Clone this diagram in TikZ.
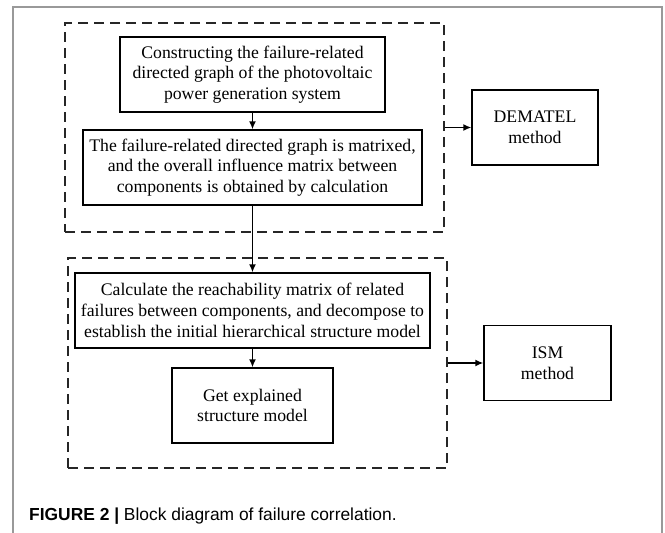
\documentclass[tikz,border=0pt]{standalone}
\usepackage{fontspec}
\setmainfont{Liberation Serif}
\newfontfamily\capfont{Liberation Sans}
\usetikzlibrary{arrows.meta}
\tikzset{
  stepbox/.style={draw=black, line width=1.4pt, inner sep=0pt, align=center,
    font=\fontsize{17.7}{20.8}\selectfont},
  groupbox/.style={draw=black!85, line width=1.4pt, dash pattern=on 10pt off 6pt, inner sep=0pt},
  flow/.style={line width=1.4pt, -{Latex[length=8pt,width=7pt]}},
  frameline/.style={draw=black!40, line width=1.5pt}
}
\begin{document}
\begin{tikzpicture}[x=1pt,y=-1pt]
\useasboundingbox (0,0) rectangle (665,533);
\draw[frameline] (13,533) -- (13,7) -- (662,7) -- (662,533);

\node[groupbox, minimum width=379pt, minimum height=209pt] (g1) at (254.5,127.5) {};
\node[groupbox, minimum width=379pt, minimum height=210pt] (g2) at (257.5,363) {};

\node[stepbox, minimum width=265pt, minimum height=75pt] (a) at (252.5,74.5)
  {Constructing the failure-related\\directed graph of the photovoltaic\\power generation system};
\node[stepbox, minimum width=339pt, minimum height=75pt] (b) at (252.5,167.5)
  {The failure-related directed graph is matrixed,\\and the overall influence matrix between\\components is obtained by calculation};
\node[stepbox, minimum width=355pt, minimum height=75pt] (c) at (252.5,310.5)
  {Calculate the reachability matrix of related\\failures between components, and decompose to\\establish the initial hierarchical structure model};
\node[stepbox, minimum width=161pt, minimum height=75pt] (d) at (252.5,405.5)
  {Get explained\\structure model};
\node[stepbox, minimum width=126pt, minimum height=75pt] (dem) at (535,127.5)
  {DEMATEL\\method};
\node[stepbox, minimum width=127pt, minimum height=75pt] (ism) at (547.5,363)
  {ISM\\method};

\draw[flow] (a) -- (b);
\draw[flow] (b) -- (c);
\draw[flow] (c) -- (d);
\draw[flow] (g1) -- (dem);
\draw[flow] (g2) -- (ism);

\node[anchor=base west, inner sep=0pt, font=\capfont\fontsize{17.4}{21}\selectfont] (cap) at (29,520)
  {{\bfseries FIGURE 2 |} Block diagram of failure correlation.};
\end{tikzpicture}
\end{document}
